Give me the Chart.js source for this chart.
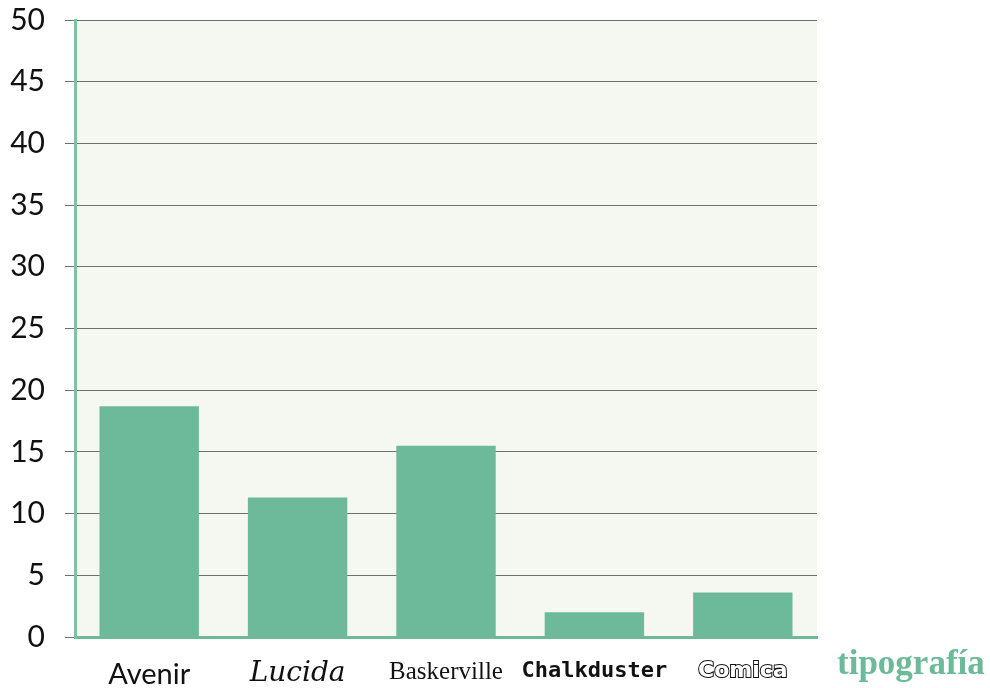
<!DOCTYPE html>
<html>
<head>
<meta charset="utf-8">
<script src="https://cdn.jsdelivr.net/npm/chart.js@4"></script>
<style>
  html, body { margin: 0; padding: 0; background: #ffffff; }
  #wrap { width: 990px; height: 688px; position: relative; }
</style>
</head>
<body>
<div id="wrap"><canvas id="barChart"></canvas></div>
<script>
// datos del gráfico de tipografías
const fuentes = ["Avenir", "Lucida", "Baskerville", "Chalkduster", "Comica"];
const valores = [18.7, 11.3, 15.5, 2.0, 3.6];
const ejeY = [0, 5, 10, 15, 20, 25, 30, 35, 40, 45, 50];
const tituloX = "tipografía";

// una familia por etiqueta, para imitar cada tipo
const familias = [
    { family: "Lato", size: 29, style: "normal", weight: "normal", lineHeight: 1 },
    { family: "DejaVu Serif", size: 28, style: "italic", weight: "normal", lineHeight: 1 },
    { family: "Liberation Serif", size: 25, style: "normal", weight: "normal", lineHeight: 1 },
    { family: "DejaVu Sans Mono", size: 22, style: "normal", weight: "bold", lineHeight: 1 },
    { family: "DejaVu Sans", size: 22, style: "normal", weight: "bold", lineHeight: 1 }
];

const verde = "#6dba9a";

const fondoArea = {
    id: "fondoArea",
    beforeDraw(chart) {
        const { ctx, chartArea } = chart;
        ctx.save();
        ctx.fillStyle = "#f5f8f0";
        ctx.fillRect(chartArea.left, chartArea.top, chartArea.right - chartArea.left, chartArea.bottom - chartArea.top);
        ctx.restore();
    }
};

const tituloLado = {
    id: "tituloLado",
    afterDraw(chart) {
        const { ctx } = chart;
        ctx.save();
        ctx.fillStyle = verde;
        ctx.font = "bold 35px 'Liberation Serif'";
        ctx.textAlign = "left";
        ctx.textBaseline = "middle";
        ctx.fillText(tituloX, 837, 665);
        ctx.restore();
    }
};

window.onload = function () {
    new Chart(document.getElementById("barChart"), {
        type: "bar",
        data: {
            labels: fuentes,
            datasets: [{
                data: valores,
                backgroundColor: verde,
                categoryPercentage: 0.67,
                barPercentage: 1.0
            }]
        },
        options: {
            responsive: true,
            maintainAspectRatio: false,
            animation: false,
            layout: { padding: { top: 20, right: 173, left: 0, bottom: 0 } },
            plugins: { legend: { display: false }, tooltip: { enabled: false } },
            scales: {
                x: {
                    grid: { display: false },
                    border: { display: true, color: verde, width: 3 },
                    afterFit(s) {
                        s.height = 51;
                        s.paddingLeft = 0;
                        s.paddingRight = 0;
                    },
                    ticks: {
                        color: (c) => c.index === 4 ? "#ffffff" : "#111",
                        textStrokeColor: "#111",
                        textStrokeWidth: (c) => c.index === 4 ? 2 : 0,
                        padding: 15,
                        autoSkip: false,
                        maxRotation: 0,
                        minRotation: 0,
                        font: (c) => familias[c.index] || familias[0]
                    }
                },
                y: {
                    min: 0,
                    max: 50,
                    afterBuildTicks(axis) { axis.ticks = ejeY.map(v => ({ value: v })); },
                    afterFit(s) {
                        s.width = 75;
                        s.paddingTop = 0;
                        s.paddingBottom = 0;
                    },
                    grid: {
                        color: "#6f6f6f",
                        lineWidth: 1,
                        drawTicks: true,
                        tickLength: 10
                    },
                    border: { display: true, color: "#7cc4a0", width: 3 },
                    ticks: {
                        color: "#111",
                        padding: 20,
                        font: { family: "Lato", size: 30 }
                    }
                }
            }
        },
        plugins: [fondoArea, tituloLado]
    });
};
</script>
</body>
</html>
